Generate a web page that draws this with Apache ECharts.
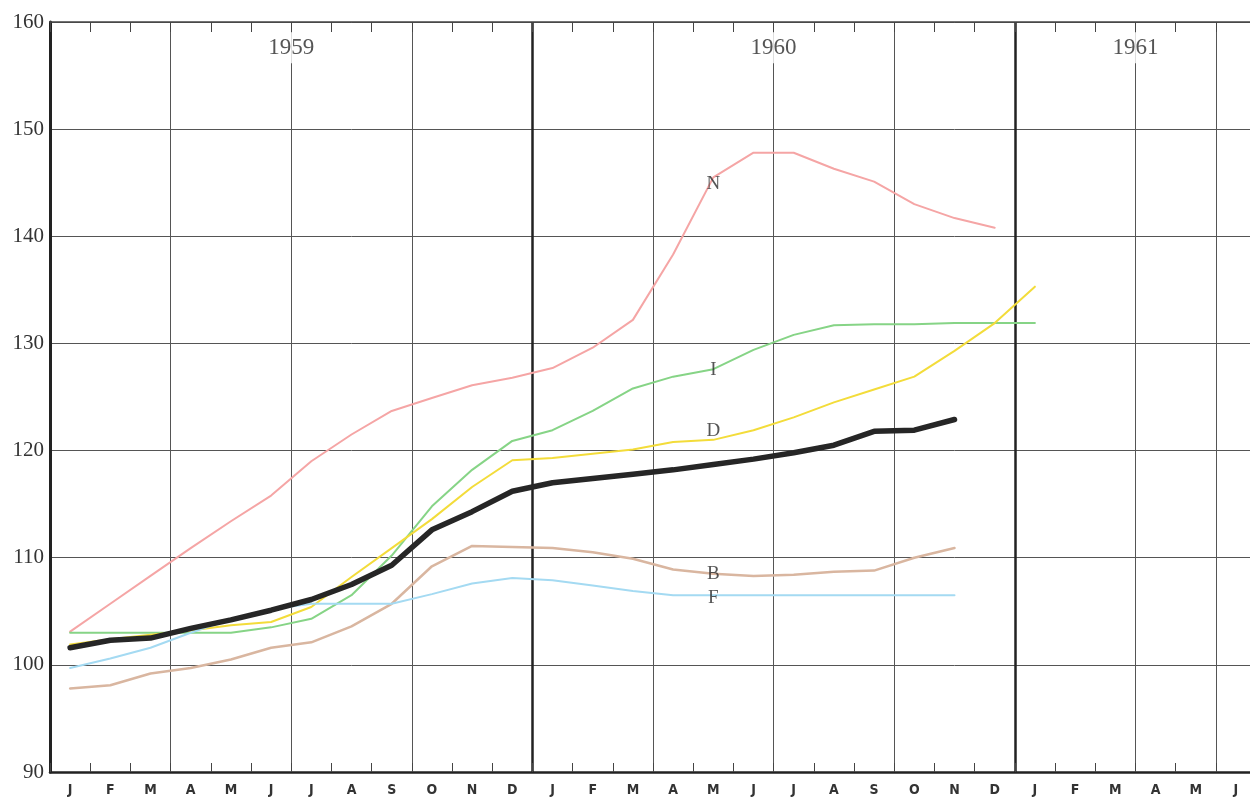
<!DOCTYPE html>
<html>
<head>
<meta charset="utf-8">
<script src="https://cdn.jsdelivr.net/npm/echarts@6/dist/echarts.min.js"></script>
<style>
html,body{margin:0;padding:0;background:#fff;overflow:hidden;width:1250px;height:801px;}
#chart{width:1260px;height:801px;}
</style>
</head>
<body>
<div id="chart"></div>
<script>
// Categories: months Jan 1959 .. Jun 1961
const months = ['J','F','M','A','M','J','J','A','S','O','N','D',
                'J','F','M','A','M','J','J','A','S','O','N','D',
                'J','F','M','A','M','J'];
const yearLabels = ['1959','1960','1961'];
const yearPositions = [6, 18, 27];   // month-boundary index on hidden value axis
const yearLabelValue = 157.6;

const seriesN = [103.1,105.7,108.3,110.9,113.4,115.8,119.0,121.5,123.7,124.9,126.1,126.8,
                 127.7,129.6,132.2,138.3,145.5,147.8,147.8,146.3,145.1,143.0,141.7,140.8];
const seriesI = [103.0,103.0,103.0,103.0,103.0,103.5,104.3,106.5,110.2,114.8,118.2,120.9,
                 121.9,123.7,125.8,126.9,127.6,129.4,130.8,131.7,131.8,131.8,131.9,131.9,131.9];
const seriesD = [101.9,102.4,102.8,103.2,103.7,104.0,105.4,108.2,110.9,113.6,116.6,119.1,
                 119.3,119.7,120.1,120.8,121.0,121.9,123.1,124.5,125.7,126.9,129.3,131.9,135.3];
const seriesB = [97.8,98.1,99.2,99.7,100.5,101.6,102.1,103.6,105.7,109.2,111.1,111.0,
                 110.9,110.5,109.9,108.9,108.5,108.3,108.4,108.7,108.8,110.0,110.9];
const seriesF = [99.7,100.6,101.6,103.0,104.3,105.2,105.7,105.7,105.7,106.6,107.6,108.1,
                 107.9,107.4,106.9,106.5,106.5,106.5,106.5,106.5,106.5,106.5,106.5];
const seriesIndex = [101.6,102.3,102.5,103.4,104.2,105.1,106.1,107.5,109.3,112.6,114.3,116.2,
                     117.0,117.4,117.8,118.2,118.7,119.2,119.8,120.5,121.8,121.9,122.9];

const lineNames = ['N','I','D','B','F'];
const lineLabelMonth = 16;
const lineLabelValues = [144.9, 127.5, 121.8, 108.5, 106.2];

const yTicks = {min: 90, max: 160, interval: 10};

const serif = "'Liberation Serif','DejaVu Serif',serif";
const narrow = "'Liberation Sans Narrow','DejaVu Sans Condensed','Liberation Sans',sans-serif";

const chart = echarts.init(document.getElementById('chart'), null, {renderer: 'canvas', width: 1260, height: 801});

function lineSeries(name, data, color, width, z) {
  return {
    name: name, type: 'line', data: data, xAxisIndex: 0, yAxisIndex: 0,
    showSymbol: false, symbol: 'none', smooth: false, z: z,
    lineStyle: {color: color, width: width, cap: 'round', join: 'round'},
    silent: true, animation: false
  };
}

const option = {
  animation: false,
  backgroundColor: '#ffffff',
  grid: {left: 50, top: 22, width: 1206, bottom: 29, containLabel: false, outerBoundsMode: 'none'},
  xAxis: [
    {
      type: 'category', data: months, position: 'bottom', boundaryGap: true,
      axisLine: {show: true, lineStyle: {color: '#222', width: 2.5}},
      axisTick: {show: true, inside: true, length: 9, interval: 0, lineStyle: {color: '#444', width: 1}},
      axisLabel: {interval: 0, margin: 11, color: '#333', fontFamily: narrow, fontWeight: 'bold', fontSize: 14},
      splitLine: {show: true, interval: 2, lineStyle: {color: '#555', width: 1}}
    },
    {
      type: 'category', data: months, position: 'top', boundaryGap: true,
      axisLine: {show: true, onZero: false, lineStyle: {color: '#444', width: 1.5}},
      axisTick: {show: true, inside: true, length: 10, interval: 0, lineStyle: {color: '#444', width: 1}},
      axisLabel: {show: false},
      splitLine: {show: true, interval: 11, lineStyle: {color: '#222', width: 2.5}}
    },
    {
      type: 'value', min: 0, max: 30, show: false, position: 'top',
      splitLine: {show: false}
    }
  ],
  yAxis: [{
    type: 'value', min: yTicks.min, max: yTicks.max, interval: yTicks.interval,
    axisLine: {show: true, lineStyle: {color: '#222', width: 3}},
    axisTick: {show: false},
    axisLabel: {color: '#333', fontFamily: serif, fontSize: 21, margin: 6},
    splitLine: {show: true, lineStyle: {color: '#555', width: 1}}
  }],
  series: [
    lineSeries('N', seriesN, '#f5a5a5', 2, 3),
    lineSeries('I', seriesI, '#86d486', 2, 3),
    lineSeries('D', seriesD, '#f3dc3a', 2, 3),
    lineSeries('B', seriesB, '#d9b6a0', 2.5, 3),
    lineSeries('F', seriesF, '#a4daf2', 2, 3),
    lineSeries('Index', seriesIndex, '#262626', 5.5, 4),
    {
      type: 'scatter', xAxisIndex: 0, yAxisIndex: 0, symbolSize: 0, z: 6, silent: true,
      data: lineNames.map((n, k) => ({value: [lineLabelMonth, lineLabelValues[k]], name: n})),
      label: {show: true, position: 'inside', formatter: p => p.name,
              color: '#2a2a2a', fontFamily: serif, fontSize: 19}
    },
    {
      type: 'scatter', xAxisIndex: 2, yAxisIndex: 0, symbolSize: 0, z: 6, silent: true,
      data: yearLabels.map((n, k) => ({value: [yearPositions[k], yearLabelValue], name: n})),
      label: {show: true, position: 'inside', formatter: p => p.name,
              color: '#2a2a2a', fontFamily: serif, fontSize: 23,
              backgroundColor: '#ffffff', padding: [2, 4, 6, 4]}
    }
  ]
};
chart.setOption(option);
</script>
</body>
</html>
